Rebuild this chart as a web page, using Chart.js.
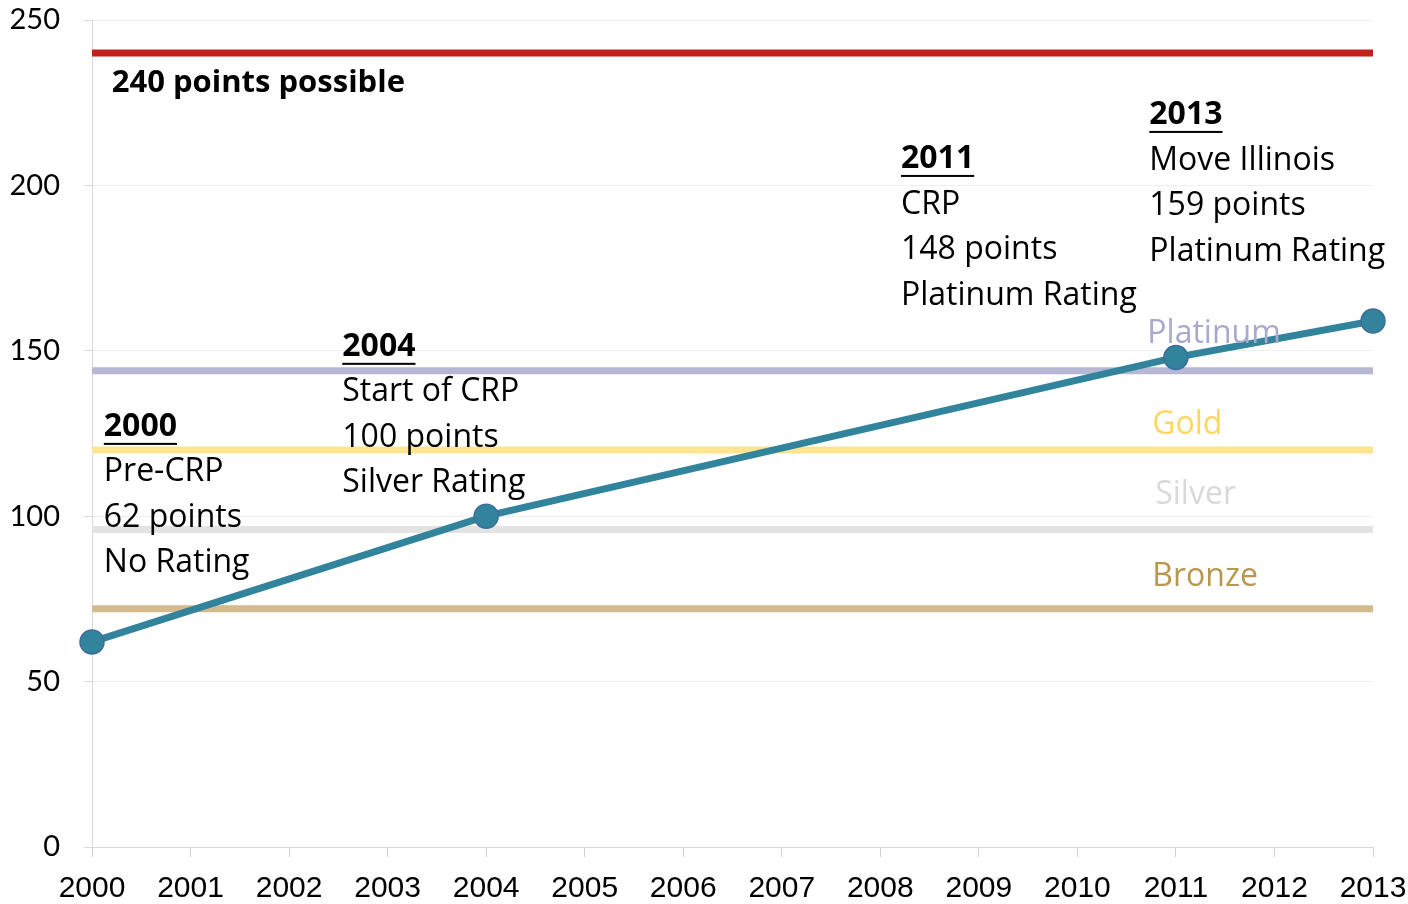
<!DOCTYPE html>
<html>
<head>
<meta charset="utf-8">
<script src="https://cdn.jsdelivr.net/npm/chart.js@4.4.1/dist/chart.umd.min.js"></script>
<style>
  html, body { margin: 0; padding: 0; background: #fff; }
  #wrap { width: 1408px; height: 904px; position: relative; }
</style>
</head>
<body>
<div id="wrap"><canvas id="ratingChart"></canvas></div>
<script>
// Data
const years = [2000, 2004, 2011, 2013];
const points = [62, 100, 148, 159];

const levelNames = ['240 points possible', 'Platinum', 'Gold', 'Silver', 'Bronze'];
const levelValues = [240, 144, 120, 96, 72];
const levelColors = ['#C0211A', '#B5B7D3', '#FFE58F', '#E3E3E3', '#D4BA8C'];
const levelTextColors = ['#000000', '#A7A9CE', '#FFD75E', '#D9D9D9', '#B8974F'];

const xTicks = [2000, 2013];
const yTicks = [0, 250];

const notes = [
  { head: '2000', lines: ['Pre-CRP', '62 points', 'No Rating'] },
  { head: '2004', lines: ['Start of CRP', '100 points', 'Silver Rating'] },
  { head: '2011', lines: ['CRP', '148 points', 'Platinum Rating'] },
  { head: '2013', lines: ['Move Illinois', '159 points', 'Platinum Rating'] }
];
// where each note starts (x in years, y in points)
const noteAnchors = [[2000.12, 127.0], [2002.54, 151.2], [2008.21, 208.0], [2010.73, 221.3]];
const levelLabelAnchors = [[2000.2, 230.8], [2010.71, 155.2], [2010.76, 127.7], [2010.79, 106.5], [2010.76, 81.7]];

const teal = '#31849B';
const bodyFont = '"Open Sans", sans-serif';

// text plugin
const notesPlugin = {
  id: 'notes',
  afterDatasetsDraw(chart) {
    const { ctx, scales: { x, y } } = chart;
    ctx.save();
    ctx.textBaseline = 'middle';
    ctx.textAlign = 'left';

    levelNames.forEach((name, i) => {
      const px = x.getPixelForValue(levelLabelAnchors[i][0]);
      const py = y.getPixelForValue(levelLabelAnchors[i][1]);
      ctx.font = (i === 0 ? 'bold 31px ' : '32px ') + bodyFont;
      ctx.fillStyle = levelTextColors[i];
      ctx.fillText(name, px, py);
    });

    const lineH = 45.5;
    notes.forEach((n, i) => {
      const px = x.getPixelForValue(noteAnchors[i][0]);
      let py = y.getPixelForValue(noteAnchors[i][1]);
      ctx.fillStyle = '#000';
      ctx.font = 'bold 32px ' + bodyFont;
      ctx.fillText(n.head, px, py);
      const w = ctx.measureText(n.head).width;
      ctx.fillRect(px, py + 16, w, 2);
      ctx.font = '32px ' + bodyFont;
      n.lines.forEach(t => {
        py += lineH;
        ctx.fillText(t, px, py);
      });
    });
    ctx.restore();
  }
};

const datasets = [{
  data: years.map((yr, i) => ({ x: yr, y: points[i] })),
  borderColor: teal,
  borderWidth: 7,
  pointRadius: 12,
  pointBackgroundColor: teal,
  pointBorderColor: '#3E6C9E',
  pointBorderWidth: 1.5,
  clip: false,
  order: 0
}];
levelValues.forEach((v, i) => {
  datasets.push({
    data: [{ x: xTicks[0], y: v }, { x: xTicks[1], y: v }],
    borderColor: levelColors[i],
    borderWidth: 7,
    pointRadius: 0,
    order: 1
  });
});

new Chart(document.getElementById('ratingChart'), {
  type: 'line',
  data: { datasets: datasets },
  options: {
    responsive: true,
    maintainAspectRatio: false,
    animation: false,
    layout: { padding: { left: 0, right: 35, top: 20, bottom: 0 } },
    plugins: { legend: { display: false }, tooltip: { enabled: false } },
    scales: {
      x: {
        type: 'linear',
        min: xTicks[0],
        max: xTicks[1],
        ticks: {
          stepSize: 1,
          padding: 14,
          color: '#000',
          font: { family: '"Liberation Sans Narrow", sans-serif', size: 30 },
          callback: v => String(v)
        },
        grid: { drawOnChartArea: false, tickLength: 10, color: '#D0D0D0' },
        border: { color: '#D9D9D9' },
        afterFit(scale) {
          scale.height = 57;
          scale.paddingLeft = 0;
          scale.paddingRight = 0;
        }
      },
      y: {
        min: yTicks[0],
        max: yTicks[1],
        ticks: {
          stepSize: 50,
          padding: 24,
          color: '#000',
          font: { family: 'Lato, sans-serif', size: 29 }
        },
        grid: { color: '#EFEFEF', tickLength: 8, tickColor: '#D9D9D9' },
        border: { color: '#D9D9D9' },
        afterFit(scale) {
          scale.width = 92;
          scale.paddingTop = 0;
          scale.paddingBottom = 0;
        }
      }
    }
  },
  plugins: [notesPlugin]
});
</script>
</body>
</html>
